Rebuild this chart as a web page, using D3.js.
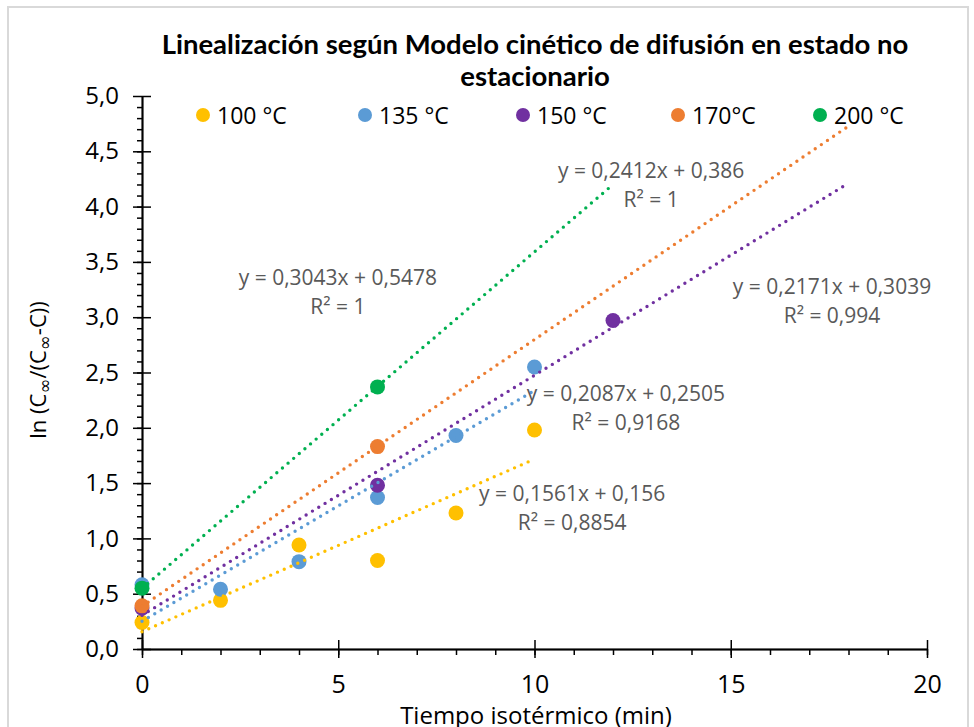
<!DOCTYPE html>
<html>
<head>
<meta charset="utf-8">
<script src="https://cdn.jsdelivr.net/npm/d3@7"></script>
<style>
  body { margin: 0; background: #fff; }
  text { font-family: "Open Sans", sans-serif; }
</style>
</head>
<body>
<svg width="974" height="727"></svg>
<script>
// datos
var series = ["100 °C", "135 °C", "150 °C", "170°C", "200 °C"];
var colores = ["#FFC000", "#5B9BD5", "#7030A0", "#ED7D31", "#00B050"];

var tiempo100 = [0, 2, 4, 6, 8, 10];
var ln100 = [0.24, 0.44, 0.94, 0.80, 1.23, 1.98];
var tiempo135 = [0, 2, 4, 6, 8, 10];
var ln135 = [0.58, 0.54, 0.79, 1.37, 1.93, 2.55];
var tiempo150 = [0, 6, 12];
var ln150 = [0.37, 1.48, 2.97];
var tiempo170 = [0, 6];
var ln170 = [0.39, 1.83];
var tiempo200 = [0, 6];
var ln200 = [0.55, 2.37];

// lineas de tendencia (ecuaciones del grafico)
var pendientes = [0.1561, 0.2087, 0.2171, 0.2412, 0.3043];
var ordenadas = [0.156, 0.2505, 0.3039, 0.386, 0.5478];
var r2 = [0.8854, 0.9168, 0.994, 1, 1];
var finTendencia = [10, 10, 18, 18, 12];

var xTicks = [0, 5, 10, 15, 20];
var yTicks = [0, 0.5, 1, 1.5, 2, 2.5, 3, 3.5, 4, 4.5, 5];

// posicion de las etiquetas (en unidades del grafico)
var etiquetaX = [10.96, 12.33, 17.58, 12.97, 4.99];
var etiquetaY = [1.40, 2.31, 3.27, 4.32, 3.35];

var tiempos = [tiempo100, tiempo135, tiempo150, tiempo170, tiempo200];
var valores = [ln100, ln135, ln150, ln170, ln200];

var svg = d3.select("svg");
var x = d3.scaleLinear().domain([0, 20]).range([142, 927]);
var y = d3.scaleLinear().domain([0, 5]).range([649, 96]);
var coma = function(v) { return String(v).replace(".", ","); };
var fmtY = function(v) { return d3.format(".1f")(v).replace(".", ","); };

// marco
svg.append("rect")
  .attr("x", 8).attr("y", 7).attr("width", 960).attr("height", 740)
  .attr("fill", "none").attr("stroke", "#D9D9D9").attr("stroke-width", 2);

// titulo
var titulo = svg.append("text")
  .attr("text-anchor", "middle")
  .style("font-family", "Lato, sans-serif")
  .style("font-weight", "bold")
  .style("font-size", "27.5px");
titulo.append("tspan").attr("x", 535).attr("y", 54)
  .text("Linealización según Modelo cinético de difusión en estado no");
titulo.append("tspan").attr("x", 535).attr("y", 86).text("estacionario");

// ejes
function estilo(g) {
  g.selectAll("path, line").attr("stroke", "#000").attr("stroke-width", 1.5);
  g.selectAll("text").style("font-family", "Open Sans, sans-serif").attr("fill", "#000");
}
svg.append("g").attr("transform", "translate(0,649)")
  .call(d3.axisBottom(x).tickValues(d3.range(0, 21, 1)).tickSize(6).tickSizeOuter(0).tickFormat(""))
  .call(estilo);
svg.append("g").attr("transform", "translate(0,649)")
  .call(d3.axisTop(x).tickValues(xTicks).tickSize(9).tickSizeOuter(0).tickFormat(""))
  .call(estilo);
svg.append("g").attr("transform", "translate(0,649)")
  .call(d3.axisBottom(x).tickValues(xTicks).tickSize(9).tickSizeOuter(0).tickPadding(17).tickFormat(d3.format("d")))
  .call(estilo)
  .selectAll("text").style("font-size", "25px");

svg.append("g").attr("transform", "translate(142,0)")
  .call(d3.axisLeft(y).tickValues(d3.range(0, 50, 1).map(function(d){ return d / 10; })).tickSize(5).tickSizeOuter(0).tickFormat(""))
  .call(estilo);
svg.append("g").attr("transform", "translate(142,0)")
  .call(d3.axisRight(y).tickValues(yTicks).tickSize(9).tickSizeOuter(0).tickFormat(""))
  .call(estilo);
svg.append("g").attr("transform", "translate(142,0)")
  .call(d3.axisLeft(y).tickValues(yTicks).tickSize(9).tickSizeOuter(0).tickPadding(14).tickFormat(fmtY))
  .call(estilo)
  .selectAll("text").style("font-size", "24px");

// titulos de ejes
svg.append("text")
  .attr("x", 536).attr("y", 724)
  .attr("text-anchor", "middle")
  .style("font-size", "24px")
  .text("Tiempo isotérmico (min)");

var tituloY = svg.append("text")
  .attr("transform", "translate(46,370) rotate(-90)")
  .attr("text-anchor", "middle")
  .style("font-size", "22px");
tituloY.append("tspan").text("ln (C");
tituloY.append("tspan").attr("dy", 5).style("font-size", "18px")
  .style("font-family", "DejaVu Sans").text("∞");
tituloY.append("tspan").attr("dy", -5).text("/(C");
tituloY.append("tspan").attr("dy", 5).style("font-size", "18px")
  .style("font-family", "DejaVu Sans").text("∞");
tituloY.append("tspan").attr("dy", -5).text("-C))");

// puntos
var puntos = svg.append("g");
series.forEach(function(s, i) {
  puntos.selectAll(null)
    .data(d3.zip(tiempos[i], valores[i]))
    .join("circle")
    .attr("cx", function(d) { return x(d[0]); })
    .attr("cy", function(d) { return y(d[1]); })
    .attr("r", 7.5)
    .attr("fill", colores[i]);
});

// lineas de tendencia
var linea = d3.line()
  .x(function(d) { return x(d); })
  .y(function(d, j, arr) { return y(arr.m * d + arr.b); });
series.forEach(function(s, i) {
  var ext = [0, finTendencia[i]];
  ext.m = pendientes[i];
  ext.b = ordenadas[i];
  svg.append("path")
    .attr("d", linea(ext))
    .attr("fill", "none")
    .attr("stroke", colores[i])
    .attr("stroke-width", 3.4)
    .attr("stroke-linecap", "round")
    .attr("stroke-dasharray", "0 7.4");
});

// etiquetas de ecuaciones
series.forEach(function(s, i) {
  var t = svg.append("text")
    .attr("text-anchor", "middle")
    .attr("fill", "#595959")
    .style("font-size", "21px");
  t.append("tspan").attr("x", x(etiquetaX[i])).attr("y", y(etiquetaY[i]) + 7)
    .text("y = " + coma(pendientes[i]) + "x + " + coma(ordenadas[i]));
  t.append("tspan").attr("x", x(etiquetaX[i])).attr("y", y(etiquetaY[i]) + 36)
    .text("R² = " + coma(r2[i]));
});

// leyenda
var leyendaX = [203, 365, 523, 678, 820];
var leyenda = svg.append("g");
series.forEach(function(s, i) {
  leyenda.append("circle").attr("cx", leyendaX[i]).attr("cy", 115).attr("r", 7).attr("fill", colores[i]);
  leyenda.append("text").attr("x", leyendaX[i] + 14).attr("y", 124)
    .style("font-size", "23px").text(s);
});
</script>
</body>
</html>
